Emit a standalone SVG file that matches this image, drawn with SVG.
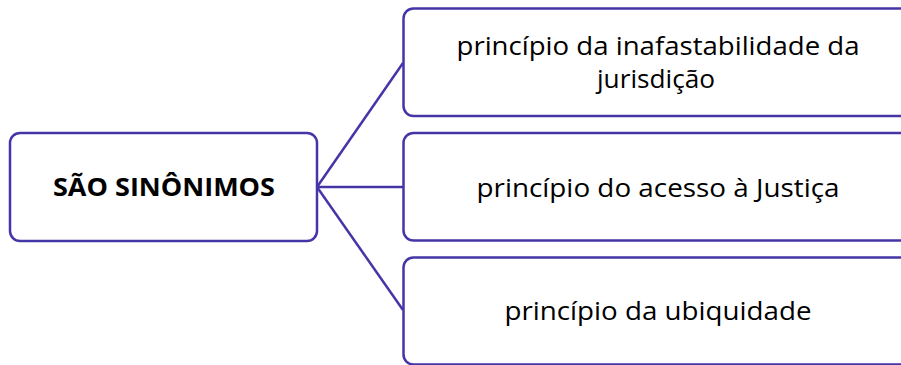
<svg xmlns="http://www.w3.org/2000/svg" width="901" height="365" viewBox="0 0 901 365">
<style>
.box{fill:#fff;stroke:#4536a8;stroke-width:2.5}
.con{fill:none;stroke:#4536a8;stroke-width:2.5}
.t{font-family:"Open Sans","Noto Sans",sans-serif;font-size:25.5px;fill:#000;text-anchor:middle}
.b{font-weight:bold;font-size:25px}
</style>
<rect width="901" height="365" fill="#fff"/>
<g id="connectors">
<line class="con" x1="317" y1="187" x2="403" y2="63"/>
<line class="con" x1="317" y1="187" x2="403" y2="187"/>
<line class="con" x1="317" y1="187" x2="403" y2="310"/>
</g>
<g id="root">
<rect class="box" x="10" y="133" width="307" height="108" rx="10"/>
<text class="t b" x="164" y="195.5" textLength="222" lengthAdjust="spacingAndGlyphs">SÃO SINÔNIMOS</text>
</g>
<g id="n1">
<rect class="box" x="403.5" y="8.5" width="520" height="107.5" rx="10"/>
<text class="t" x="658" y="55" textLength="403" lengthAdjust="spacingAndGlyphs">princípio da inafastabilidade da</text>
<text class="t" x="656" y="88" textLength="118" lengthAdjust="spacingAndGlyphs">jurisdição</text>
</g>
<g id="n2">
<rect class="box" x="403.5" y="133" width="520" height="107.5" rx="10"/>
<text class="t" x="658" y="196.5" textLength="363" lengthAdjust="spacingAndGlyphs">princípio do acesso à Justiça</text>
</g>
<g id="n3">
<rect class="box" x="403.5" y="257.5" width="520" height="107" rx="10"/>
<text class="t" x="658" y="320" textLength="307" lengthAdjust="spacingAndGlyphs">princípio da ubiquidade</text>
</g>
</svg>
